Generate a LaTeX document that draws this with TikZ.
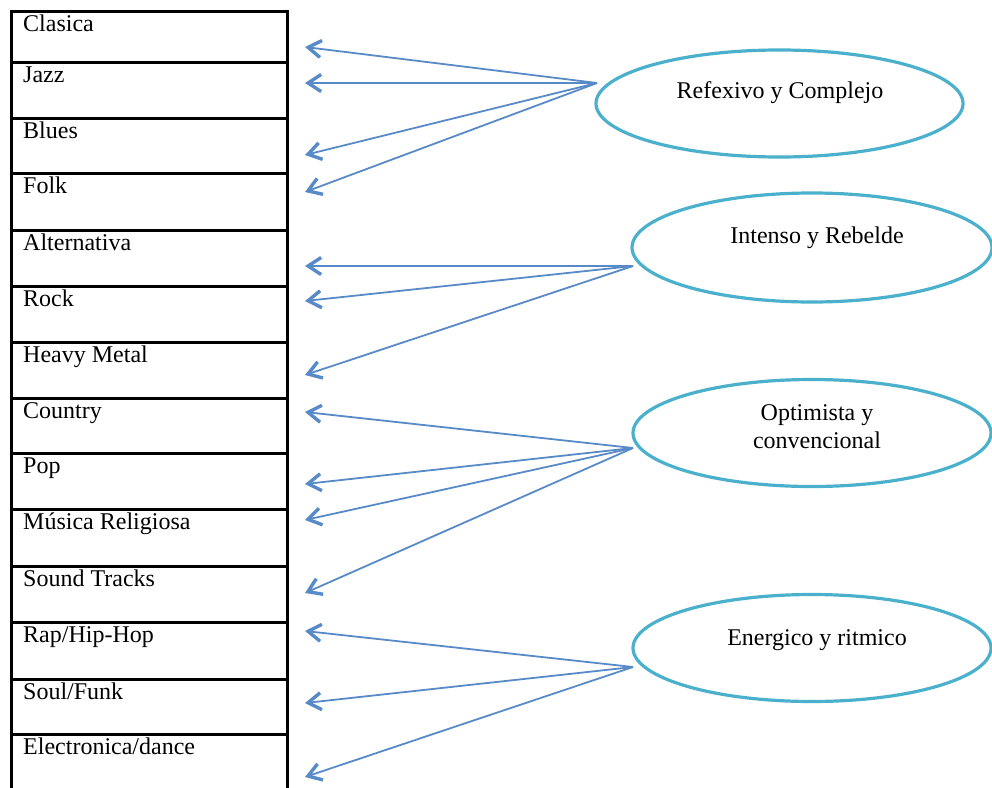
\documentclass[tikz,border=0pt]{standalone}
\usepackage{fontspec}
\setmainfont{Liberation Serif}
\usetikzlibrary{arrows.meta,shapes.geometric}
\definecolor{arrowblue}{RGB}{88,138,200}
\definecolor{ellcyan}{RGB}{75,176,204}
\begin{document}
\begin{tikzpicture}[x=1pt,y=-1pt,
  tabline/.style={line width=3pt, line cap=rect},
  genre/.style={anchor=base west, inner sep=0pt, font=\fontsize{24}{28}\selectfont},
  mood/.style={draw=ellcyan, line width=3.2pt, ellipse, minimum width=362pt, minimum height=107pt, inner sep=0pt},
  moodtext/.style={anchor=base, inner sep=0pt, align=center, font=\fontsize{24}{28}\selectfont},
  link/.style={draw=arrowblue, line width=1.8pt, -{Straight Barb[length=13pt,width=17pt,line width=3.4pt]}}
]
\useasboundingbox (0,0) rectangle (992,787);
% table
\draw[tabline] (11.5,787) -- (11.5,11.5) -- (287.5,11.5) -- (287.5,787);
\foreach \y in {62,118,173.5,230,286.5,342.5,398.5,453.5,509.5,566,622,679,734}
  \draw[tabline] (11.5,\y) -- (287.5,\y);
% genres
\node[genre] (g1) at (23,31) {Clasica};
\node[genre] (g2) at (23,82) {Jazz};
\node[genre] (g3) at (23,138) {Blues};
\node[genre] (g4) at (23,193.5) {Folk};
\node[genre] (g5) at (23,250) {Alternativa};
\node[genre] (g6) at (23,306.5) {Rock};
\node[genre] (g7) at (23,362.5) {Heavy Metal};
\node[genre] (g8) at (23,418.5) {Country};
\node[genre] (g9) at (23,473.5) {Pop};
\node[genre] (g10) at (23,529.5) {Música Religiosa};
\node[genre] (g11) at (23,586) {Sound Tracks};
\node[genre] (g12) at (23,642) {Rap/Hip-Hop};
\node[genre] (g13) at (23,699) {Soul/Funk};
\node[genre] (g14) at (23,754) {Electronica/dance};
% moods
\node[mood, minimum width=367pt] (e1) at (779.5,103.5) {};
\node[mood, minimum width=360pt, minimum height=109pt] (e2) at (812,247.5) {};
\node[mood, minimum width=358pt] (e3) at (812,433) {};
\node[mood, minimum width=358pt] (e4) at (812,648) {};
\node[moodtext] (m1) at (780,98) {Refexivo y Complejo};
\node[moodtext] (m2) at (817,243) {Intenso y Rebelde};
\node[moodtext] (m3a) at (817,420) {Optimista y};
\node[moodtext] (m3b) at (817,448) {convencional};
\node[moodtext] (m4) at (817,645) {Energico y ritmico};
% arrow sources and tips
\coordinate (s1) at (597,83);
\coordinate (s2) at (633,266);
\coordinate (s3) at (633,448);
\coordinate (s4) at (633,667);
\foreach \n/\y in {1/47,2/83,3/155,4/192,5/266,6/301,7/375,8/412,9/484,10/520,11/593,12/631,13/703,14/777}
  \coordinate (t\n) at (305,\y);
\foreach \n in {1,2,3,4} \draw[link] (s1) -- (t\n);
\foreach \n in {5,6,7} \draw[link] (s2) -- (t\n);
\foreach \n in {8,9,10,11} \draw[link] (s3) -- (t\n);
\foreach \n in {12,13,14} \draw[link] (s4) -- (t\n);
\end{tikzpicture}
\end{document}
